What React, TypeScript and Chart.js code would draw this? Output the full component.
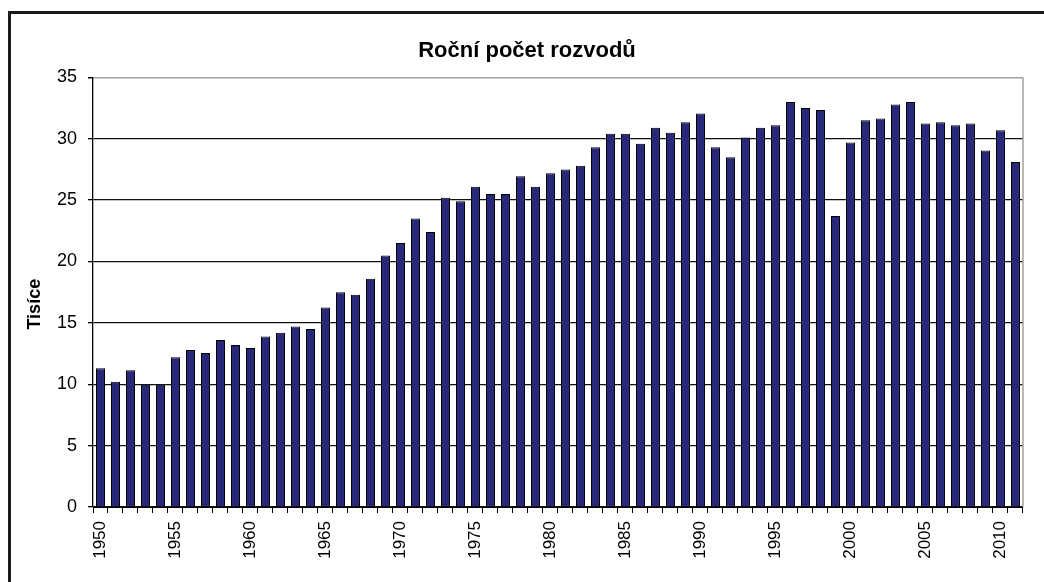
import React, { useEffect, useRef } from 'react';
import { Chart, registerables } from 'chart.js';

Chart.register(...registerables);

const chartTitle = 'Roční počet rozvodů';
const yAxisTitle = 'Tisíce';

const years = [
  '1950', '1951', '1952', '1953', '1954', '1955', '1956', '1957', '1958', '1959',
  '1960', '1961', '1962', '1963', '1964', '1965', '1966', '1967', '1968', '1969',
  '1970', '1971', '1972', '1973', '1974', '1975', '1976', '1977', '1978', '1979',
  '1980', '1981', '1982', '1983', '1984', '1985', '1986', '1987', '1988', '1989',
  '1990', '1991', '1992', '1993', '1994', '1995', '1996', '1997', '1998', '1999',
  '2000', '2001', '2002', '2003', '2004', '2005', '2006', '2007', '2008', '2009',
  '2010', '2011',
];

const divorces = [
  11.3, 10.2, 11.15, 9.95, 9.95, 12.2, 12.8, 12.55, 13.6, 13.2,
  12.95, 13.9, 14.2, 14.7, 14.5, 16.25, 17.5, 17.3, 18.6, 20.5,
  21.5, 23.5, 22.4, 25.2, 24.9, 26.1, 25.5, 25.5, 26.95, 26.1,
  27.2, 27.5, 27.8, 29.3, 30.4, 30.4, 29.6, 30.9, 30.5, 31.35,
  32.05, 29.3, 28.5, 30.1, 30.9, 31.1, 33.0, 32.5, 32.35, 23.7,
  29.7, 31.5, 31.65, 32.8, 33.0, 31.25, 31.35, 31.1, 31.25, 29.05,
  30.7, 28.1,
];

const xLabelYears = ['1950', '1955', '1960', '1965', '1970', '1975', '1980', '1985', '1990', '1995', '2000', '2005', '2010'];
const yTickValues = [0, 5, 10, 15, 20, 25, 30, 35];

const FONT = '"Liberation Sans", Arial, sans-serif';

const decorations = {
  id: 'decorations',
  afterDraw(chart: any) {
    const { ctx, chartArea } = chart;
    ctx.save();
    ctx.strokeStyle = '#a0a0a0';
    ctx.lineWidth = 1.5;
    ctx.beginPath();
    ctx.moveTo(chartArea.right, chartArea.top);
    ctx.lineTo(chartArea.right, chartArea.bottom);
    ctx.stroke();
    // rotated y-axis title, sitting slightly below the plot's middle as in the original
    ctx.translate(chartArea.left - 58, (chartArea.top + chartArea.bottom) / 2 + 12);
    ctx.rotate(-Math.PI / 2);
    ctx.fillStyle = '#000';
    ctx.font = `bold 18px ${FONT}`;
    ctx.textAlign = 'center';
    ctx.textBaseline = 'middle';
    ctx.fillText(yAxisTitle, 0, 0);
    ctx.restore();
  },
};

export default function App() {
  const ref = useRef<HTMLCanvasElement>(null);

  useEffect(() => {
    const chart = new Chart(ref.current as HTMLCanvasElement, {
      type: 'bar',
      data: {
        labels: years,
        datasets: [
          {
            data: divorces,
            backgroundColor: '#27287a',
            borderColor: '#000000',
            borderWidth: 1,
            barPercentage: 0.6,
            categoryPercentage: 1,
          },
        ],
      },
      options: {
        animation: false,
        responsive: false,
        maintainAspectRatio: false,
        layout: { padding: { left: 25, right: 15, top: 0, bottom: 0 } },
        plugins: {
          legend: { display: false },
          tooltip: { enabled: false },
          title: {
            display: true,
            text: chartTitle,
            color: '#000',
            font: { family: FONT, size: 22, weight: 'bold' },
            padding: { top: 38, bottom: 13 },
          },
        },
        scales: {
          x: {
            grid: {
              offset: true,
              drawOnChartArea: false,
              drawTicks: true,
              tickLength: 6,
              color: '#000',
            },
            border: { color: '#000', width: 1 },
            ticks: {
              autoSkip: false,
              maxRotation: 90,
              minRotation: 90,
              padding: 8,
              color: '#000',
              font: { family: FONT, size: 17 },
              callback: (_v: any, i: number) => (xLabelYears.includes(years[i]) ? years[i] : ''),
            },
            afterFit: (s: any) => {
              s.height = 75;
            },
          },
          y: {
            min: 0,
            max: 35,
            afterBuildTicks: (s: any) => {
              s.ticks = yTickValues.map((v) => ({ value: v }));
            },
            ticks: {
              padding: 11,
              color: '#000',
              font: { family: FONT, size: 18 },
            },
            grid: {
              color: (c: any) => (c.tick && c.tick.value === 35 ? '#a0a0a0' : '#111'),
              lineWidth: (c: any) => (c.tick && c.tick.value === 35 ? 1.5 : 1.3),
              tickColor: '#000',
              tickLength: 5,
            },
            border: { color: '#000', width: 1.3 },
            afterFit: (s: any) => {
              s.width = 68;
            },
          },
        },
      } as any,
      plugins: [decorations],
    });
    return () => chart.destroy();
  }, []);

  return (
    <div
      style={{
        position: 'absolute',
        left: 0,
        top: 0,
        width: 1044,
        height: 582,
        overflow: 'hidden',
        background: '#fff',
      }}
    >
      <div
        style={{
          position: 'absolute',
          left: 8,
          top: 11,
          width: 1200,
          height: 800,
          borderLeft: '3px solid #1a1a1a',
          borderTop: '3px solid #1a1a1a',
        }}
      />
      <canvas
        ref={ref}
        width={1044}
        height={582}
        style={{ position: 'absolute', left: 0, top: 0, width: 1044, height: 582 }}
      />
    </div>
  );
}
